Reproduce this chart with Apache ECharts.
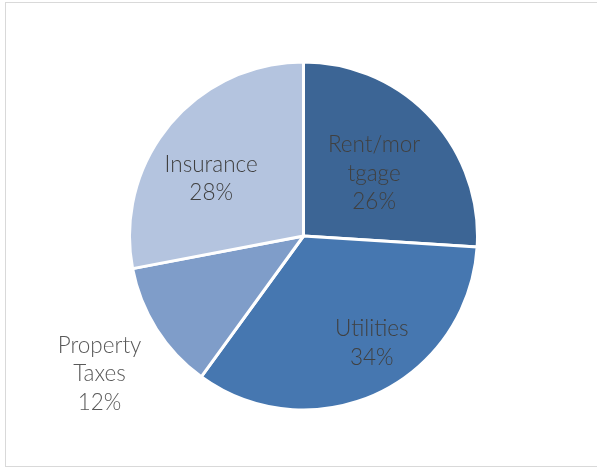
<!DOCTYPE html>
<html>
<head>
<meta charset="utf-8">
<script src="https://cdn.jsdelivr.net/npm/echarts@6/dist/echarts.min.js"></script>
<style>
  html, body { margin: 0; padding: 0; background: #fff; }
  #frame { position: absolute; left: 5px; top: 2px; width: 600px; height: 465px; border: 1px solid #d9d9d9; box-sizing: border-box; }
  #chart { position: absolute; left: 0; top: 0; width: 597px; height: 467px; }
</style>
</head>
<body>
<div id="frame"></div>
<div id="chart"></div>
<script>
const categories = ['Rent/mortgage', 'Utilities', 'Property Taxes', 'Insurance']
const values = [26, 34, 12, 28]
const colors = ['#3c6595', '#4677b0', '#7f9dc9', '#b4c4df']
// label nudges so they sit where the original places them
const labelOffsets = [[5, -1], [30, 26], [-128, 90], [-23, 0]]
const labelText = ['Rent/mor\ntgage', 'Utilities', 'Property\nTaxes', 'Insurance']

const chart = echarts.init(document.getElementById('chart'))
chart.setOption({
  animation: false,
  series: [{
    type: 'pie',
    center: [303.5, 236],
    radius: 174,
    startAngle: 90,
    clockwise: true,
    itemStyle: { borderColor: '#fff', borderWidth: 3 },
    label: {
      show: true,
      position: 'inside',
      fontFamily: 'Lato',
      fontWeight: 300,
      fontSize: 22.5,
      lineHeight: 28.5,
      color: '#404040',
      align: 'center',
    },
    labelLine: { show: false },
    emphasis: { disabled: true },
    data: categories.map((c, i) => ({
      name: c,
      value: values[i],
      itemStyle: { color: colors[i] },
      label: {
        offset: labelOffsets[i],
        formatter: labelText[i] + '\n' + values[i] + '%',
        color: i === 2 ? '#595959' : '#404040',
      },
    })),
  }],
})
</script>
</body>
</html>
